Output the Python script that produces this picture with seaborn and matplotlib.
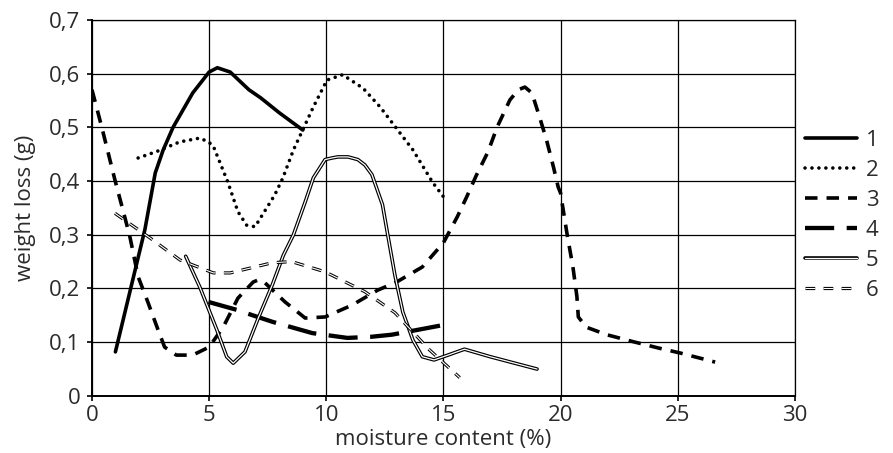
import matplotlib
matplotlib.use("Agg")
import matplotlib.pyplot as plt
import matplotlib.patheffects as pe
from matplotlib.ticker import FuncFormatter
import seaborn as sns

# ---- data ----
s1_x = [1.0, 2.26, 2.7, 3.04, 3.46, 4.3, 5.0, 5.35, 5.9, 6.7, 7.2, 8.0, 9.0]
s1_y = [0.082, 0.31, 0.415, 0.458, 0.50, 0.564, 0.603, 0.611, 0.603, 0.57, 0.555, 0.527, 0.495]

s2_x = [1.97, 2.76, 3.75, 4.6, 4.97, 5.18, 5.8, 6.23, 6.6, 6.96, 7.8, 8.15, 8.6, 9.45, 10.03, 10.7, 11.57, 12.3, 13.7, 14.55, 15.0]
s2_y = [0.443, 0.455, 0.473, 0.48, 0.473, 0.465, 0.398, 0.343, 0.318, 0.315, 0.374, 0.406, 0.458, 0.538, 0.588, 0.598, 0.573, 0.538, 0.458, 0.397, 0.371]

s3_x = [0.0, 0.42, 0.98, 1.4, 1.62, 1.97, 2.4, 2.82, 3.1, 3.6, 4.3, 5.0, 5.6, 6.23, 6.88, 7.1, 7.3, 8.24, 9.1, 9.95, 11.1, 12.2, 13.0, 14.1, 15.0, 15.6, 16.0, 16.4, 16.9, 17.3, 17.84, 18.2, 18.48, 18.78, 19.1, 19.4, 19.7, 19.9, 20.0, 20.27, 20.53, 20.7, 20.76, 21.1, 21.97, 23.1, 24.2, 25.1, 26.6]
s3_y = [0.57, 0.50, 0.402, 0.333, 0.296, 0.222, 0.173, 0.123, 0.091, 0.076, 0.076, 0.091, 0.128, 0.182, 0.212, 0.216, 0.214, 0.175, 0.145, 0.147, 0.169, 0.197, 0.212, 0.24, 0.285, 0.334, 0.371, 0.41, 0.454, 0.501, 0.551, 0.57, 0.575, 0.564, 0.52, 0.477, 0.426, 0.389, 0.378, 0.304, 0.24, 0.185, 0.147, 0.128, 0.114, 0.101, 0.089, 0.08, 0.063]

s4_x = [4.97, 6.2, 6.8, 7.7, 9.4, 10.9, 11.9, 12.8, 15.0]
s4_y = [0.175, 0.16, 0.151, 0.138, 0.117, 0.108, 0.11, 0.114, 0.132]

s5_x = [4.0, 4.6, 5.33, 5.75, 6.03, 6.53, 7.1, 7.7, 8.17, 8.6, 9.1, 9.45, 9.95, 10.25, 10.5, 10.93, 11.35, 11.65, 11.95, 12.15, 12.4, 12.65, 12.93, 13.27, 13.7, 14.1, 14.6, 15.0, 15.9, 17.0, 19.0]
s5_y = [0.26, 0.203, 0.123, 0.073, 0.061, 0.082, 0.145, 0.207, 0.262, 0.30, 0.361, 0.406, 0.44, 0.443, 0.445, 0.445, 0.44, 0.43, 0.412, 0.387, 0.356, 0.294, 0.225, 0.156, 0.104, 0.073, 0.067, 0.073, 0.087, 0.073, 0.05]

s6_x = [0.98, 2.48, 3.76, 5.18, 5.9, 7.7, 8.53, 9.95, 11.65, 12.93, 14.4, 15.7]
s6_y = [0.34, 0.294, 0.253, 0.229, 0.229, 0.248, 0.25, 0.231, 0.194, 0.155, 0.086, 0.034]

labels = ["1", "2", "3", "4", "5", "6"]
x_ticks = [0, 5, 10, 15, 20, 25, 30]
y_ticks = [0, 0.1, 0.2, 0.3, 0.4, 0.5, 0.6, 0.7]

# ---- styling ----
sns.set_style("white")
plt.rcParams["font.family"] = ["Open Sans", "DejaVu Sans"]
plt.rcParams["lines.scale_dashes"] = False
TXT = "#2b2b2b"
FS = 16

fig = plt.figure(figsize=(8.93, 4.53), dpi=100)
ax = fig.add_axes([0.103, 0.126, 0.787, 0.830])

series = [
    (s1_x, s1_y, dict(linewidth=2.6), None, None),
    (s2_x, s2_y, dict(linewidth=2.6, dash_capstyle="round"), (0, (0.01, 5.0)), None),
    (s3_x, s3_y, dict(linewidth=2.6, dash_capstyle="butt"), (0, (9.0, 6.5)), None),
    (s4_x, s4_y, dict(linewidth=3.1, dash_capstyle="butt"), (0, (21.0, 9.0)), None),
    (s5_x, s5_y, dict(linewidth=0.9), None, 2.6),
    (s6_x, s6_y, dict(linewidth=0.8, dash_capstyle="butt"), (0, (7.0, 6.0)), 2.3),
]

handles = []
for (xs, ys, kw, ls, stroke), lab in zip(series, labels):
    n_before = len(ax.lines)
    color = "white" if stroke else "black"
    sns.lineplot(x=xs, y=ys, ax=ax, color=color, sort=False, estimator=None,
                 label=lab, legend=False, **kw)
    line = ax.lines[n_before]
    line.set_solid_joinstyle("round")
    line.set_dash_joinstyle("round")
    if ls is not None:
        line.set_linestyle(ls)
    if stroke:
        line.set_path_effects([pe.Stroke(linewidth=stroke, foreground="black"), pe.Normal()])
    line.set_zorder(3)
    handles.append(line)

ax.set_xlim(0, 30)
ax.set_ylim(0, 0.7)
ax.set_xticks(x_ticks)
ax.set_yticks(y_ticks)
ax.yaxis.set_major_formatter(FuncFormatter(lambda v, p: "0" if abs(v) < 1e-9 else f"{v:.1f}".replace(".", ",")))
ax.grid(True, color="black", linewidth=0.9)
ax.set_axisbelow(True)
for side in ["top", "right"]:
    ax.spines[side].set_color("black")
    ax.spines[side].set_linewidth(0.9)
for side in ["left", "bottom"]:
    ax.spines[side].set_color("black")
    ax.spines[side].set_linewidth(1.4)

ax.tick_params(axis="both", direction="out", length=3.5, width=1.2, color="black",
               labelsize=FS, labelcolor=TXT, bottom=True, left=True)
ax.tick_params(axis="x", pad=3)
ax.tick_params(axis="y", pad=5)
ax.set_xlabel("moisture content (%)", fontsize=FS, color=TXT, labelpad=2)
ax.set_ylabel("weight loss (g)", fontsize=FS, color=TXT, labelpad=9)

leg = ax.legend(handles, labels, loc="center left", bbox_to_anchor=(1.0, 0.48),
                frameon=False, fontsize=FS, handlelength=2.35, handletextpad=0.4,
                labelspacing=0.4, borderaxespad=0.45, borderpad=0)
for t in leg.get_texts():
    t.set_color(TXT)

fig.savefig("out.png", dpi=100, facecolor="white")
